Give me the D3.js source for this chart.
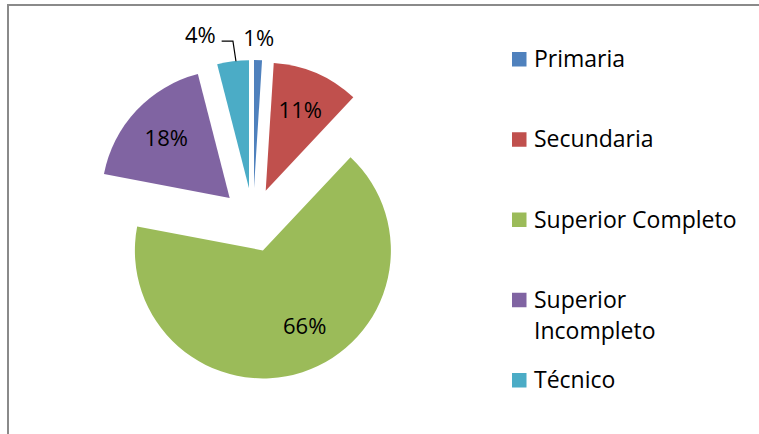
<!DOCTYPE html>
<html>
<head>
<meta charset="utf-8">
<script src="https://cdn.jsdelivr.net/npm/d3@7"></script>
<style>
  body { margin: 0; background: #fff; }
  svg { display: block; font-family: "Open Sans", sans-serif; }
</style>
</head>
<body>
<svg id="chart" width="759" height="434"></svg>
<script>
var categories = ["Primaria", "Secundaria", "Superior Completo", "Superior Incompleto", "Técnico"];
var values = [1, 11, 66, 18, 4];
var labels = ["1%", "11%", "66%", "18%", "4%"];
var colors = ["#4F81BD", "#C0504D", "#9BBB59", "#8064A2", "#4BACC6"];

var cx = 253, cy = 220,
  radius = 128,
  explode = 32,
  fontSize = 22,
  legendFont = 23;

var svg = d3.select("#chart");

// frame (only top and left edges show in the crop)
svg.append("rect")
  .attr("x", 8).attr("y", 5)
  .attr("width", 800).attr("height", 500)
  .attr("fill", "none")
  .attr("stroke", "#8a8a8a")
  .attr("stroke-width", 2);

var color = d3.scaleOrdinal().domain(categories).range(colors);

var pie = d3.pie().sort(null).value(function(d) { return d; });
var arcs = pie(values);

var arc = d3.arc().innerRadius(0).outerRadius(radius);
var labelArc = d3.arc().innerRadius(radius * 0.68).outerRadius(radius * 0.68);
var outerArc = d3.arc().innerRadius(radius * 1.167).outerRadius(radius * 1.167);
var edgeArc = d3.arc().innerRadius(radius).outerRadius(radius);

var g = svg.append("g").attr("transform", "translate(" + cx + "," + cy + ")");

function mid(d) { return (d.startAngle + d.endAngle) / 2; }
function offset(d) {
  var a = mid(d);
  return [explode * Math.sin(a), -explode * Math.cos(a)];
}

var slice = g.selectAll("g.slice")
  .data(arcs)
  .enter().append("g")
    .attr("class", "slice")
    .attr("transform", function(d) { var o = offset(d); return "translate(" + o[0] + "," + o[1] + ")"; });

slice.append("path")
  .attr("d", arc)
  .attr("fill", function(d, i) { return color(categories[i]); });

// labels: inside for big slices, outside for small ones
slice.each(function(d, i) {
  var s = d3.select(this);
  if (d.value >= 10) {
    var c = labelArc.centroid(d);
    // the biggest slice's label sits a bit toward its leading side, as Excel does
    if (d.value > 50) c = labelArc.centroid({
      startAngle: d.startAngle,
      endAngle: d.endAngle - (d.endAngle - d.startAngle) * 0.09
    });
    s.append("text")
      .attr("x", c[0]).attr("y", c[1])
      .attr("dy", "0.35em")
      .attr("text-anchor", "middle")
      .attr("font-size", fontSize)
      .attr("fill", "#000")
      .text(labels[i]);
  } else {
    var p = outerArc.centroid(d);
    var left = Math.sin(mid(d)) < 0;
    if (left) {
      // pushed aside to clear the neighbour, joined by a leader line
      var lx = p[0] - 30, ly = p[1] - 5;
      var t = s.append("text")
        .attr("x", lx).attr("y", ly)
        .attr("dy", "0.35em")
        .attr("text-anchor", "middle")
        .attr("font-size", fontSize)
        .attr("fill", "#000")
        .text(labels[i]);
      var w = t.node().getComputedTextLength();
      var e = edgeArc.centroid(d);
      var sx = lx + w / 2 + 6, sy = ly + 6;
      s.append("polyline")
        .attr("points", [[sx, sy], [e[0], sy], [e[0] + 3, e[1]]].map(function(q) { return q.join(","); }).join(" "))
        .attr("fill", "none")
        .attr("stroke", "#000")
        .attr("stroke-width", 1.2);
    } else {
      s.append("text")
        .attr("x", p[0]).attr("y", p[1])
        .attr("dy", "0.35em")
        .attr("text-anchor", "middle")
        .attr("font-size", fontSize)
        .attr("fill", "#000")
        .text(labels[i]);
    }
  }
});

// legend
var rowY = d3.scalePoint().domain(categories).range([67, 388]);
var legend = svg.append("g").attr("class", "legend");
var lineHeight = 31, maxWidth = 212;

var item = legend.selectAll("g")
  .data(categories)
  .enter().append("g")
    .attr("transform", function(d) { return "translate(512," + rowY(d) + ")"; });

item.append("rect")
  .attr("x", 0).attr("y", -15)
  .attr("width", 14.5).attr("height", 14.5)
  .attr("fill", function(d) { return color(d); });

item.append("text")
  .attr("x", 22).attr("y", 0)
  .attr("font-size", legendFont)
  .attr("fill", "#000")
  .each(function(d) {
    var t = d3.select(this);
    t.text(d);
    if (this.getComputedTextLength() > maxWidth) {
      var words = d.split(" ");
      t.text(null);
      words.forEach(function(wd, k) {
        t.append("tspan").attr("x", 22).attr("y", k * lineHeight).text(wd);
      });
    }
  });
</script>
</body>
</html>
